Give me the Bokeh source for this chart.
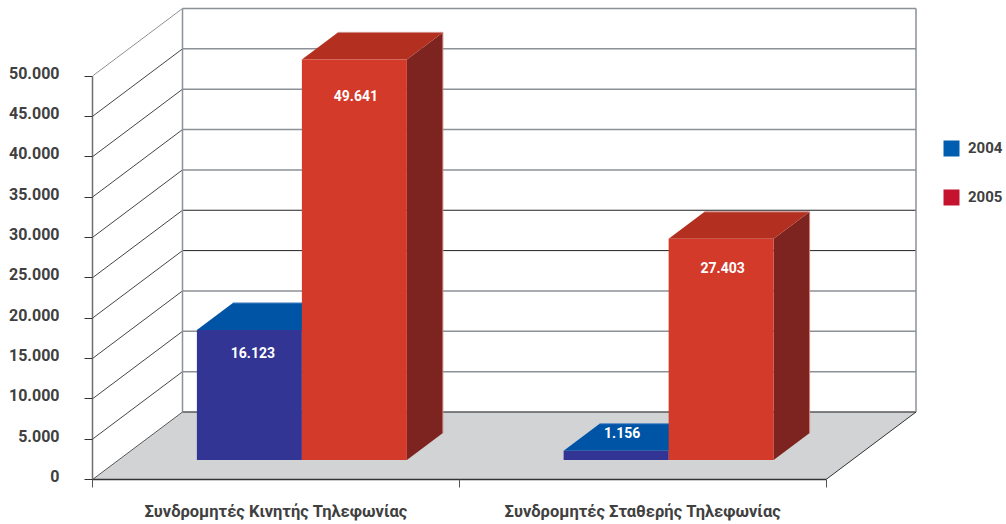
from bokeh.embed import file_html
from bokeh.resources import INLINE
from bokeh.plotting import figure
from bokeh.models import FixedTicker, Legend, LegendItem, LinearAxis, Range1d
from bokeh.core.properties import value

# ---- data ----
categories = ["Συνδρομητές Κινητής Τηλεφωνίας", "Συνδρομητές Σταθερής Τηλεφωνίας"]
series_names = ["2004", "2005"]
values_2004 = [16123, 1156]
values_2005 = [49641, 27403]
tick_values = [0, 5000, 10000, 15000, 20000, 25000, 30000, 35000, 40000, 45000, 50000]
tick_labels = ["0", "5.000", "10.000", "15.000", "20.000", "25.000",
               "30.000", "35.000", "40.000", "45.000", "50.000"]

# ---- layout & style ----
W, H = 1006, 524
LEFT, BOTTOM = 92, 45
PX_X = 366.75           # px per category
PX_Y = 403.5 / 50000    # px per value unit
DX = 90 / PX_X          # full wall depth in x units
DY = 67.5 / PX_Y        # full wall depth in value units
D1, D2 = 0.289, 0.689   # bar front/back depth fractions
BW = 105 / PX_X         # bar width
FONT = "Roboto"
TEXT_COLOR = "#404040"
LABEL_RAISE = 3.5 / PX_Y  # tick labels sit a little above their ticks

GRID_GRAY, GRID_DARK = "#8b9196", "#222222"
C_FRONT = {"2004": "#333594", "2005": "#D33A2A"}
C_TOP = {"2004": "#0054A6", "2005": "#B33020"}
C_SIDE = {"2004": "#0B3A78", "2005": "#7D2320"}
C_EDGE = {"2004": "#5C8FC8", "2005": "#CF8A84"}
LEGEND_COLORS = {"2004": "#005EB0", "2005": "#C4122F"}
LABEL_DX = [[3.5, 1.5], [6, 1.5]]        # per category: 2004, 2005
LABEL_DY = [[23, 36], [-18, 29]]         # px below the top edge

n_cat = len(categories)
y_end = (H - BOTTOM) / PX_Y

p = figure(width=W, height=H, toolbar_location=None, output_backend="svg",
           x_range=(0, (W - LEFT) / PX_X), y_range=(0, y_end),
           min_border_left=LEFT, min_border_bottom=BOTTOM, min_border_top=0, min_border_right=0,
           outline_line_color=None, background_fill_color="white", border_fill_color="white")
p.grid.visible = False
p.extra_y_ranges = {"labels": Range1d(-LABEL_RAISE, y_end - LABEL_RAISE)}

# floor
p.patch([0, n_cat, n_cat + DX, DX], [0, 0, DY, DY], fill_color="#D1D3D4", line_color=None)

# back wall gridlines + side wall diagonals
for t in tick_values[1:]:
    dark = t in (20000, 25000)
    p.line([DX, n_cat + DX], [t + DY, t + DY],
           line_color=GRID_DARK if dark else GRID_GRAY, line_width=1 if dark else 1.5)
    p.line([0, DX], [t, t + DY], line_color=GRID_GRAY if t == tick_values[-1] else "#444444", line_width=1)
p.line([DX, n_cat + DX], [DY, DY], line_color="#58595B", line_width=1.5)
p.line([DX, DX], [DY, tick_values[-1] + DY], line_color=GRID_GRAY, line_width=1.5)
p.line([n_cat + DX, n_cat + DX], [DY, tick_values[-1] + DY], line_color=GRID_GRAY, line_width=1.5)
p.line([0, DX], [0, DY], line_color="#58595B", line_width=1)
p.line([n_cat, n_cat + DX], [0, DY], line_color="#333333", line_width=1)

# bars
def bar(x0, v, name):
    x1 = x0 + BW
    xf, xb = D1 * DX, D2 * DX
    yf, yb = D1 * DY, D2 * DY
    p.patch([x1 + xf, x1 + xb, x1 + xb, x1 + xf], [yf, yb, v + yb, v + yf],
            fill_color=C_SIDE[name], line_color=None)
    p.patch([x0 + xf, x1 + xf, x1 + xb, x0 + xb], [v + yf, v + yf, v + yb, v + yb],
            fill_color=C_TOP[name], line_color=None)
    p.line([x0 + xb, x1 + xb, x1 + xb], [v + yb, v + yb, yb], line_color=C_EDGE[name], line_width=1)
    p.patch([x0 + xf, x1 + xf, x1 + xf, x0 + xf], [yf, yf, v + yf, v + yf],
            fill_color=C_FRONT[name], line_color=None)

for i in range(n_cat):
    c = i + 0.5
    bar(c - BW, values_2004[i], series_names[0])
    bar(c, values_2005[i], series_names[1])

# value labels
for i in range(n_cat):
    c = i + 0.5
    for j, v in enumerate((values_2004[i], values_2005[i])):
        x = c + (j - 0.5) * BW + D1 * DX
        p.text([x], [v + D1 * DY], text=[f"{v:,}".replace(",", ".")],
               x_offset=LABEL_DX[i][j], y_offset=LABEL_DY[i][j],
               text_align="center", text_baseline="middle", text_color="white",
               text_font=value(FONT), text_font_style="bold", text_font_size="14px")

# y axis: line + ticks (minor ticks only, so it draws no labels of its own)
ya = p.yaxis[0]
ya.ticker = FixedTicker(ticks=[], minor_ticks=tick_values)
ya.major_label_standoff = 0
ya.bounds = (tick_values[0], tick_values[-1])
ya.axis_line_color = "#6d6e71"
ya.axis_line_width = 1.5
ya.major_tick_line_color = None
ya.major_tick_in = 0
ya.major_tick_out = 0
ya.minor_tick_line_color = "#333333"
ya.minor_tick_in = 0
ya.minor_tick_out = 8

# y axis: labels, on the raised range
yl = LinearAxis(y_range_name="labels", ticker=FixedTicker(ticks=tick_values),
                major_label_overrides={t: l for t, l in zip(tick_values, tick_labels)},
                axis_line_color=None, major_tick_line_color=None, minor_tick_line_color=None,
                major_tick_in=0, major_tick_out=0, major_label_standoff=25,
                major_label_text_font=FONT, major_label_text_font_style="bold",
                major_label_text_font_size="16px", major_label_text_color=TEXT_COLOR)
p.add_layout(yl, "left")

# x axis
centers = [i + 0.5 for i in range(n_cat)]
xa = p.xaxis[0]
xa.ticker = FixedTicker(ticks=centers, minor_ticks=list(range(n_cat + 1)))
xa.major_label_overrides = {c: l for c, l in zip(centers, categories)}
xa.bounds = (0, n_cat)
xa.axis_line_color = "#333333"
xa.axis_line_width = 1.5
xa.major_tick_line_color = None
xa.major_tick_out = 0
xa.major_tick_in = 0
xa.minor_tick_line_color = "#555555"
xa.minor_tick_in = 0
xa.minor_tick_out = 8
xa.major_label_standoff = 14
xa.major_label_text_font = FONT
xa.major_label_text_font_style = "bold"
xa.major_label_text_font_size = "16.5px"
xa.major_label_text_color = TEXT_COLOR

# legend
items = []
for name in series_names:
    r = p.quad(left=[float("nan")], right=[float("nan")], top=[float("nan")], bottom=[float("nan")],
               fill_color=LEGEND_COLORS[name], line_color=None)
    items.append(LegendItem(label=value(name), renderers=[r]))
lg = Legend(items=items, location=(849, 272), orientation="vertical", padding=0, margin=0,
            spacing=29, glyph_width=20, glyph_height=20, label_standoff=7,
            background_fill_alpha=0, border_line_color=None,
            label_text_font=FONT, label_text_font_style="bold",
            label_text_font_size="15px", label_text_color=TEXT_COLOR)
p.add_layout(lg, "center")

open("out.html", "w").write(file_html(p, INLINE))
